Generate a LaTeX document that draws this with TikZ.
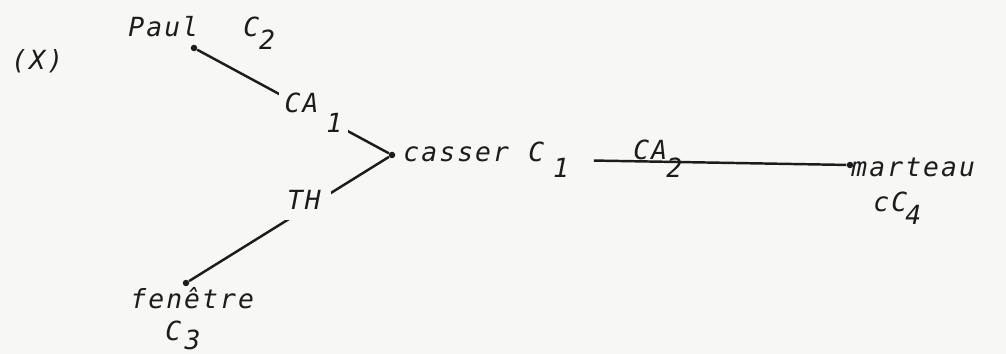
\documentclass[tikz,border=0pt]{standalone}
\usepackage{fontspec}
\newfontfamily\letterfont{DejaVu Sans Mono}[LetterSpace=8]
\definecolor{paper}{RGB}{247,247,245}
\definecolor{ink}{RGB}{28,28,28}
% index set lower than the letter: kern, drop, digit
\newcommand{\idx}[3]{\kern#1\lower#2\hbox{#3}}
\tikzset{
  word/.style={anchor=base west, inner sep=0pt, text=ink,
    font={\letterfont\itshape\fontsize{15}{17}\selectfont}},
  rel/.style={word, fill=paper, inner sep=3pt},
  dot/.style={circle, fill=ink, inner sep=0pt, minimum size=0.13cm},
  link/.style={draw=ink, line width=1.4pt},
}
\begin{document}
\begin{tikzpicture}[x=0.02cm, y=-0.02cm]
  \fill[paper] (0,0) rectangle (1006,354);
  \useasboundingbox (0,0) rectangle (1006,354);

  % points of the graph
  \node[dot] (paul) at (194,48) {};
  \node[dot] (casser) at (392,155) {};
  \node[dot] (fenetre) at (186,283) {};
  \node[dot] (marteau) at (850,165) {};

  \node[word] (x) at (11,70) {(X)};
  \node[word] (paulW) at (128,37) {Paul};
  \node[word] (paulC) at (243,37) {C\idx{0pt}{7.4pt}{2}};
  \node[word] (casserW) at (403,162) {casser};
  \node[word] (casserC) at (528,162) {C\idx{5pt}{9pt}{1}};
  \node[word] (marteauW) at (851,177) {marteau};
  \node[word] (marteauC) at (873,212) {cC\idx{-1pt}{7.4pt}{4}};
  \node[word] (fenetreW) at (130,308) {fenêtre};
  \node[word] (fenetreC) at (165,340) {C\idx{2pt}{5.5pt}{3}};

  \draw[link] (paul) -- (casser);
  \draw[link] (casser) -- (fenetre);
  \draw[link, shorten <=14pt] (casserC.east) -- (marteau);

  % relation labels, the first two break their line
  \node[rel] (ca1) at (279,113) {CA\idx{4.5pt}{11pt}{1}};
  \node[rel, inner sep=5.5pt] (th) at (277,210) {TH};
  \node[word] (ca2) at (633,160) {CA\idx{-0.5pt}{10pt}{2}};
\end{tikzpicture}
\end{document}
